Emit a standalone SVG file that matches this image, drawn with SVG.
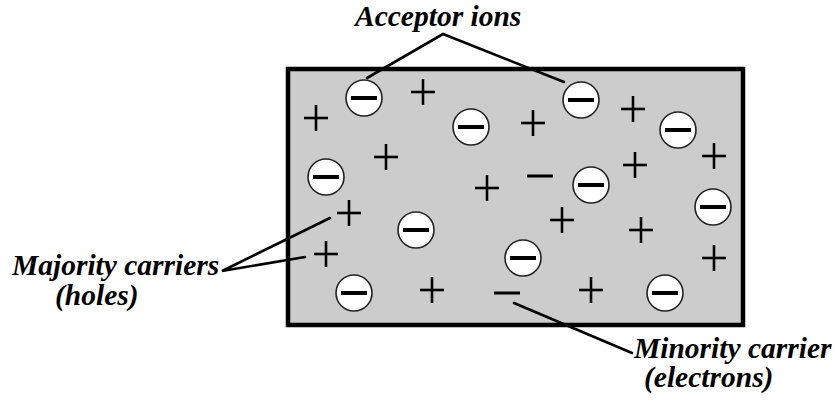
<svg xmlns="http://www.w3.org/2000/svg" width="835" height="403" viewBox="0 0 835 403">
  <style>
    .label { font-family: "Liberation Serif", "Times New Roman", serif; font-weight: bold; font-style: italic; font-size: 29.5px; fill: #000; }
    .lead { stroke: #000; stroke-width: 2.6; fill: none; stroke-linecap: round; }
    .ion circle { fill: #fff; stroke: #222; stroke-width: 1.6; }
    .bar { stroke: #000; stroke-width: 4; stroke-linecap: butt; }
    .hole { stroke: #000; stroke-width: 2.6; }
    .electron { stroke: #000; stroke-width: 3; }
  </style>
  <defs>
    <g id="acceptor" class="ion">
      <circle r="18" />
      <line class="bar" x1="-13" y1="0" x2="13" y2="0" />
    </g>
    <g id="plus">
      <line class="hole" x1="-12" y1="0" x2="12" y2="0" />
      <line class="hole" x1="0" y1="-13" x2="0" y2="13" />
    </g>
    <g id="minus">
      <line class="electron" x1="-13" y1="0" x2="13" y2="0" />
    </g>
  </defs>

  <rect width="835" height="403" fill="#fff" />

  <!-- p-type crystal block -->
  <g id="crystal">
    <rect x="288" y="69" width="455" height="256" fill="#cccccc" stroke="#000" stroke-width="4.5" />
  </g>

  <!-- fixed acceptor ions -->
  <g id="acceptor-ions">
    <use href="#acceptor" x="364" y="98" />
    <use href="#acceptor" x="471" y="127" />
    <use href="#acceptor" x="581" y="100" />
    <use href="#acceptor" x="678" y="130" />
    <use href="#acceptor" x="591" y="185" />
    <use href="#acceptor" x="713" y="207" />
    <use href="#acceptor" x="326" y="177" />
    <use href="#acceptor" x="416" y="230" />
    <use href="#acceptor" x="523" y="258" />
    <use href="#acceptor" x="354" y="293" />
    <use href="#acceptor" x="665" y="293" />
  </g>

  <!-- holes -->
  <g id="holes">
    <use href="#plus" x="316" y="118" />
    <use href="#plus" x="423" y="92" />
    <use href="#plus" x="386" y="157" />
    <use href="#plus" x="533" y="123" />
    <use href="#plus" x="633" y="109" />
    <use href="#plus" x="714" y="156" />
    <use href="#plus" x="635" y="165" />
    <use href="#plus" x="487" y="188" />
    <use href="#plus" x="349" y="213" />
    <use href="#plus" x="326" y="254" />
    <use href="#plus" x="432" y="290" />
    <use href="#plus" x="562" y="220" />
    <use href="#plus" x="641" y="230" />
    <use href="#plus" x="714" y="258" />
    <use href="#plus" x="591" y="290" />
  </g>

  <!-- free electrons -->
  <g id="electrons">
    <use href="#minus" x="540" y="176" />
    <use href="#minus" x="507" y="293" />
  </g>

  <!-- leader lines -->
  <g id="connectors">
    <polyline class="lead" points="367,78 443,34 564,82" />
    <polyline class="lead" points="330,218 222,271 305,257" />
    <line class="lead" x1="514" y1="303" x2="632" y2="353" />
  </g>

  <g id="acceptor-label">
    <text class="label" x="355" y="26">Acceptor ions</text>
  </g>
  <g id="majority-label">
    <text class="label" x="12" y="275">Majority carriers</text>
    <text class="label" x="55" y="305">(holes)</text>
  </g>
  <g id="minority-label">
    <text class="label" x="634" y="358">Minority carrier</text>
    <text class="label" x="644" y="387">(electrons)</text>
  </g>
</svg>
